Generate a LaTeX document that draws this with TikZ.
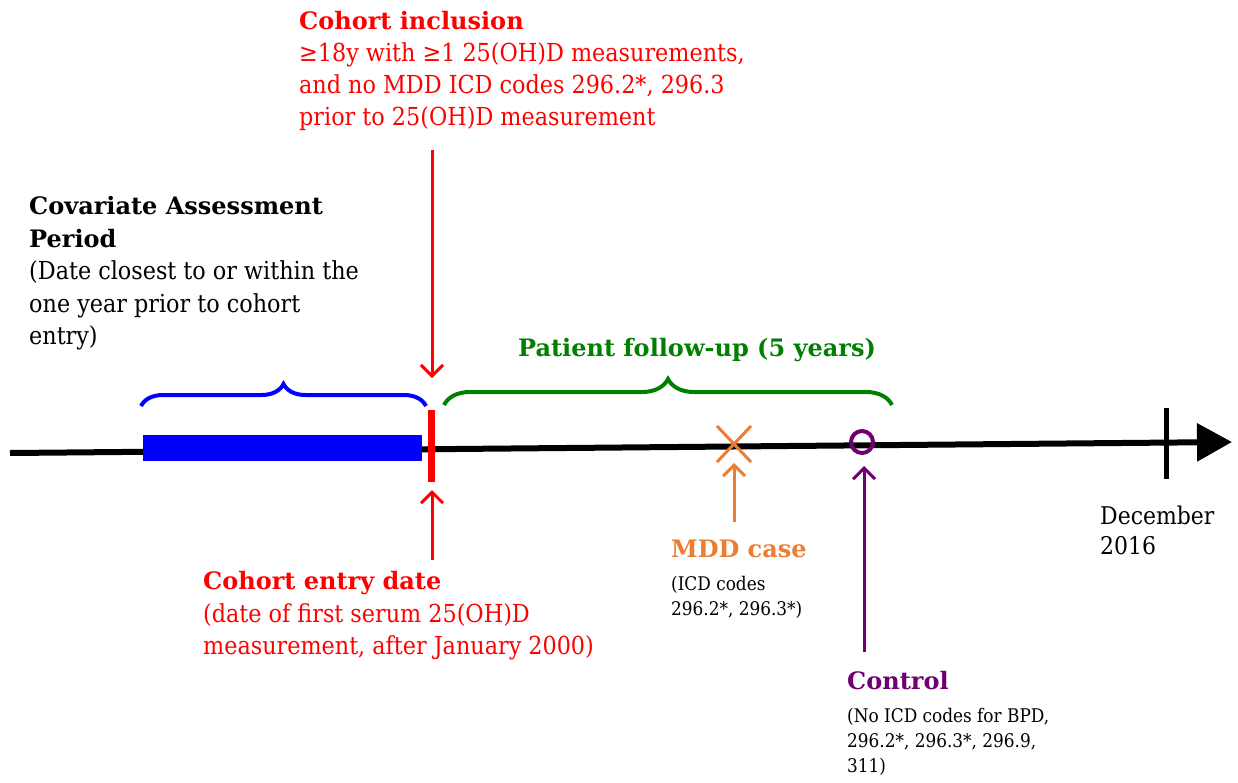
\documentclass[tikz,border=0pt]{standalone}
\usepackage{fontspec}
\setmainfont{DejaVu Serif Condensed}[BoldFont={DejaVu Serif Bold}]
\usetikzlibrary{arrows.meta,decorations.pathreplacing,positioning}
\definecolor{inclred}{RGB}{255,0,0}
\definecolor{covblue}{RGB}{0,0,255}
\definecolor{followgreen}{RGB}{0,128,0}
\definecolor{mddorange}{RGB}{237,125,49}
\definecolor{ctrlpurple}{RGB}{112,0,112}
\tikzset{
  txt/.style={anchor=north west,inner sep=0pt,align=left,font=\fontsize{24.8}{32}\selectfont},
  smalltxt/.style={anchor=north west,inner sep=0pt,align=left,font=\fontsize{18.8}{25}\selectfont},
  headtxt/.style={anchor=north west,inner sep=0pt,font=\fontsize{24}{32}\selectfont\bfseries},
  pointer/.style={line width=3pt,-{Straight Barb[length=11pt,width=22pt]}},
  span/.style={line width=4pt,decorate,decoration={brace,amplitude=#1}}
}
\begin{document}
\begin{tikzpicture}[x=1pt,y=-1pt]
\useasboundingbox (0,0) rectangle (1238,782);

\coordinate (axisL) at (10,453);
\coordinate (axisR) at (1232,442);
\draw[line width=6pt,-{Triangle[length=35pt,width=37pt]}] (axisL) -- (axisR);
\draw[line width=5pt] (1166,408) -- (1166,479);

\fill[covblue] (143,435) rectangle (422,461);
\coordinate (entryTop) at (431,410);
\coordinate (entryBot) at (431,482);
\draw[inclred,line width=7pt] (entryTop) -- (entryBot);

\draw[covblue,span=22pt] (141,406) -- (426,406);
\draw[followgreen,span=26pt] (444,405) -- (892,405);

\node[txt,text=inclred] (incl) at (299,11)
  {\textbf{\fontsize{24}{32}\selectfont Cohort inclusion}\\
   ≥18y with ≥1 25(OH)D measurements,\\
   and no MDD ICD codes 296.2*, 296.3\\
   prior to 25(OH)D measurement};
\node[txt,font=\fontsize{24.8}{32.6}\selectfont] (cov) at (29,196)
  {\textbf{\fontsize{24}{32}\selectfont Covariate Assessment}\\
   \textbf{\fontsize{24}{32}\selectfont Period}\\
   (Date closest to or within the\\
   one year prior to cohort\\
   entry)};
\node[headtxt,text=followgreen,anchor=center] (follow) at (697,350)
  {Patient follow-up (5 years)};
\node[txt,text=inclred,font=\fontsize{24.8}{32.6}\selectfont] (entry) at (203,571)
  {\textbf{\fontsize{24}{32}\selectfont Cohort entry date}\\
   (date of first serum 25(OH)D\\
   measurement, after January 2000)};
\node[headtxt,text=mddorange] (mdd) at (671,540) {MDD case};
\node[smalltxt,below=18pt of mdd.south west,anchor=north west] (mddnote)
  {(ICD codes\\296.2*, 296.3*)};
\node[headtxt,text=ctrlpurple] (ctrl) at (847,671) {Control};
\node[smalltxt,below=18pt of ctrl.south west,anchor=north west] (ctrlnote)
  {(No ICD codes for BPD,\\296.2*, 296.3*, 296.9,\\311)};
\node[txt,font=\fontsize{24.4}{30}\selectfont] (dec) at (1100,506) {December\\2016};

\coordinate (inclArrow) at (432,150);
\draw[inclred,pointer] (inclArrow) -- (432,378);
\coordinate (entryArrow) at (432,560);
\draw[inclred,pointer] (entryArrow) -- (432,490);

\coordinate (mddMark) at (734,444);
\draw[mddorange,line width=3pt] (717,426) -- (751,462) (717,462) -- (751,426);
\coordinate (mddArrow) at (734,522);
\draw[mddorange,pointer] (mddArrow) -- (734,463);

\coordinate (ctrlMark) at (862,442);
\draw[ctrlpurple,line width=4pt] (ctrlMark) circle[radius=11pt];
\coordinate (ctrlArrow) at (864,652);
\draw[ctrlpurple,pointer] (ctrlArrow) -- (864,466);
\end{tikzpicture}
\end{document}
